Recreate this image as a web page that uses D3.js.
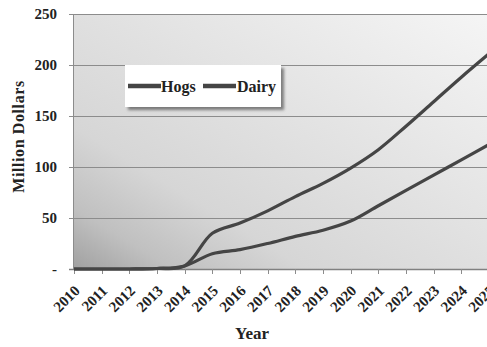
<!DOCTYPE html>
<html>
<head>
<meta charset="utf-8">
<script src="https://cdn.jsdelivr.net/npm/d3@7"></script>
<style>
  html, body { margin: 0; padding: 0; background: #fff; }
  svg { display: block; }
  text { font-family: "Liberation Serif", "Times New Roman", serif; font-weight: bold; fill: #222; }
</style>
</head>
<body>
<svg id="chart" width="487" height="347"></svg>
<script>
// Projected cumulative value, million dollars, by year
const years = [2010, 2011, 2012, 2013, 2014, 2015, 2016, 2017, 2018, 2019, 2020, 2021, 2022, 2023, 2024, 2025];
const hogs  = [0, 0, 0, 0.5, 3, 15, 19, 25, 32, 38, 47, 62, 77, 92, 107, 122];
const dairy = [0, 0, 0, 0.5, 3, 35, 45, 57, 71, 84, 99, 117, 140, 164, 188, 211];
const yTicks = [0, 50, 100, 150, 200, 250];
const seriesNames = ["Hogs", "Dairy"];

const svg = d3.select("#chart");
const m = { left: 73, top: 14, bottom: 269, right: 489 };

const x = d3.scalePoint().domain(years).range([74, 489]);
const y = d3.scaleLinear().domain([0, 250]).range([m.bottom, m.top]);

const defs = svg.append("defs");
const grad = defs.append("linearGradient")
  .attr("id", "plotBg").attr("x1", 0).attr("y1", 1).attr("x2", 1).attr("y2", 0);
grad.append("stop").attr("offset", "0%").attr("stop-color", "#a0a0a0");
grad.append("stop").attr("offset", "12%").attr("stop-color", "#c0c0c0");
grad.append("stop").attr("offset", "28%").attr("stop-color", "#d6d6d6");
grad.append("stop").attr("offset", "65%").attr("stop-color", "#e6e6e6");
grad.append("stop").attr("offset", "100%").attr("stop-color", "#f5f5f5");

const shadow = defs.append("filter").attr("id", "shadow")
  .attr("x", "-10%").attr("y", "-20%").attr("width", "130%").attr("height", "160%");
shadow.append("feDropShadow").attr("dx", 3).attr("dy", 3).attr("stdDeviation", 1.5)
  .attr("flood-color", "#000").attr("flood-opacity", 0.45);

// Plot area background
svg.append("rect")
  .attr("x", m.left).attr("y", m.top)
  .attr("width", m.right - m.left).attr("height", m.bottom - m.top)
  .attr("fill", "url(#plotBg)");

// Horizontal gridlines with short outer ticks
svg.append("g").selectAll("line").data(yTicks).join("line")
  .attr("x1", 69).attr("x2", m.right)
  .attr("y1", d => Math.round(y(d)) + 0.5).attr("y2", d => Math.round(y(d)) + 0.5)
  .attr("stroke", d => d === 0 ? "#808080" : "#8c8c8c").attr("stroke-width", d => d === 0 ? 1.5 : 1);

// Left axis line
svg.append("line")
  .attr("x1", m.left + 0.5).attr("x2", m.left + 0.5)
  .attr("y1", m.top).attr("y2", m.bottom)
  .attr("stroke", "#8c8c8c");

// Y tick labels ("-" for zero)
svg.append("g").selectAll("text").data(yTicks).join("text")
  .attr("x", 57).attr("y", d => y(d))
  .attr("dy", "0.35em")
  .attr("text-anchor", "end")
  .style("font-size", "15px")
  .text(d => d === 0 ? "-" : d);

// X tick marks
svg.append("g").selectAll("line").data(years).join("line")
  .attr("x1", d => Math.round(x(d)) + 0.5).attr("x2", d => Math.round(x(d)) + 0.5)
  .attr("y1", m.bottom).attr("y2", m.bottom + 5)
  .attr("stroke", "#8c8c8c");

// X tick labels, rotated
svg.append("g").selectAll("text").data(years).join("text")
  .attr("transform", d => `translate(${x(d) + 3},${m.bottom + 19}) rotate(-45)`)
  .attr("text-anchor", "end")
  .attr("dy", "0.35em")
  .style("font-size", "15px")
  .text(d => d);

// Axis titles
svg.append("text")
  .attr("transform", `translate(24,${(m.top + m.bottom) / 2 - 5}) rotate(-90)`)
  .attr("text-anchor", "middle")
  .style("font-size", "16px")
  .style("letter-spacing", "0.6px")
  .text("Million Dollars");

svg.append("text")
  .attr("x", 252).attr("y", 339)
  .attr("text-anchor", "middle")
  .style("font-size", "17px")
  .text("Year");

// Series lines
const line = d3.line()
  .x((d, i) => x(years[i]))
  .y(d => y(d))
  .curve(d3.curveCatmullRom.alpha(0.5));

[hogs, dairy].forEach(vals => {
  svg.append("path")
    .datum(vals)
    .attr("d", line)
    .attr("fill", "none")
    .attr("stroke", "#454545")
    .attr("stroke-width", 3.2)
    .attr("stroke-linejoin", "round");
});

// Legend
const lg = svg.append("g").attr("transform", "translate(125,65)");
lg.append("rect").attr("width", 156).attr("height", 42)
  .attr("fill", "#fff").attr("filter", "url(#shadow)");
const entries = [
  { name: seriesNames[0], lx: 3, tx: 36 },
  { name: seriesNames[1], lx: 78, tx: 112 }
];
entries.forEach(e => {
  lg.append("line")
    .attr("x1", e.lx).attr("x2", e.lx + 33)
    .attr("y1", 21).attr("y2", 21)
    .attr("stroke", "#454545").attr("stroke-width", 4.5);
  lg.append("text")
    .attr("x", e.tx).attr("y", 21).attr("dy", "0.35em")
    .style("font-size", "16px")
    .text(e.name);
});
</script>
</body>
</html>
